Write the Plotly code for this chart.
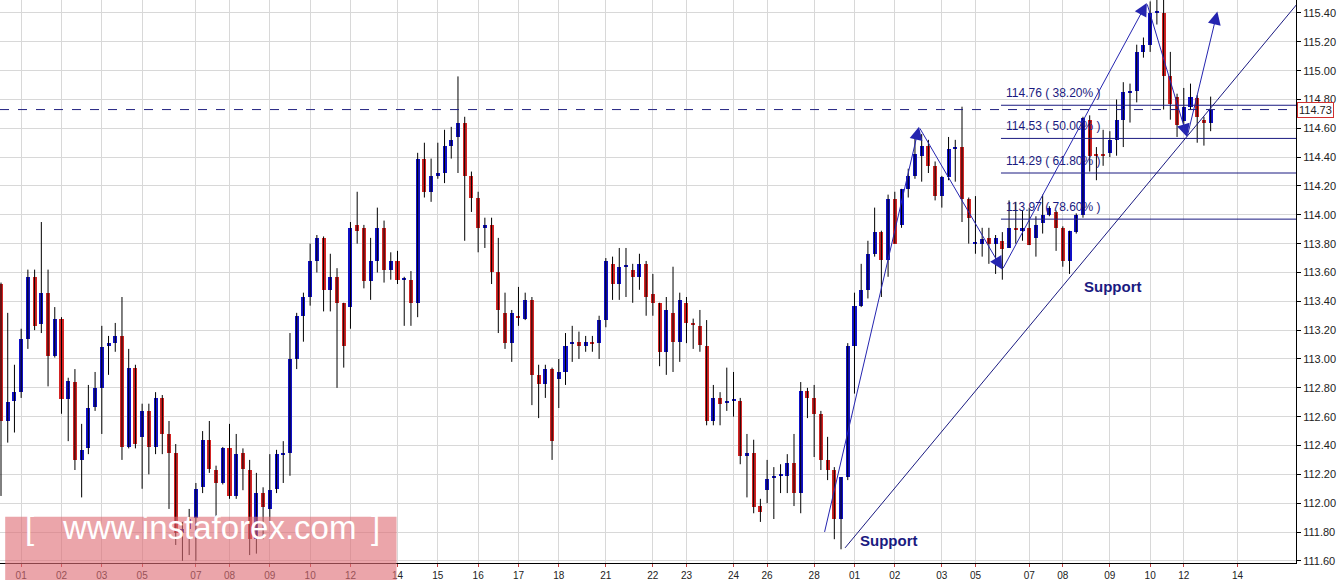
import plotly.graph_objects as go

# --- candle data (4h bars) ---------------------------------------------------
opens = [
    113.52, 112.57, 112.71, 112.77, 113.14, 113.57, 113.24, 113.46, 113.02, 113.28,
    112.72, 112.84, 112.30, 112.38, 112.67, 112.80, 113.09, 113.11, 113.16, 112.39,
    112.94, 112.46, 112.64, 112.39, 112.73, 112.48, 112.35, 111.79, 111.82, 111.90,
    112.11, 112.44, 112.23, 112.14, 112.38, 112.05, 112.35, 112.23, 111.75, 112.07,
    111.96, 112.10, 112.34, 112.35, 113.00, 113.30, 113.43, 113.68, 113.84, 113.48,
    113.57, 113.39, 113.36, 113.93, 113.91, 113.54, 113.68, 113.91, 113.62, 113.68,
    113.55, 113.55, 113.39, 114.39, 114.16, 114.27, 114.29, 114.48, 114.54, 114.64,
    114.27, 114.12, 113.91, 113.93, 113.60, 113.32, 113.11, 113.30, 113.28, 113.41,
    112.89, 112.83, 112.93, 112.86, 112.91, 113.11, 113.12, 113.09, 113.12, 113.11,
    113.27, 113.66, 113.52, 113.64, 113.62, 113.57, 113.66, 113.45, 113.39, 113.05,
    113.32, 113.12, 113.39, 113.25, 113.23, 113.09, 112.57, 112.73, 112.70, 112.71,
    112.71, 112.33, 112.35, 111.98, 112.09, 112.18, 112.19, 112.19, 112.28, 112.07,
    112.78, 112.73, 112.62, 112.30, 112.23, 111.89, 112.18, 113.09, 113.37, 113.48,
    113.73, 113.88, 113.69, 114.11, 113.93, 114.18, 114.27, 114.41, 114.48, 114.34,
    114.13, 114.26, 114.46, 114.47, 114.11, 113.80, 113.80, 113.84, 113.80, 113.82,
    113.77, 113.91, 113.89, 113.91, 113.84, 113.94, 114.00, 114.02, 113.91, 113.68,
    113.88, 114.00, 114.66, 114.42, 114.42, 114.43, 114.52, 114.66, 114.85, 114.86,
    115.13, 115.18, 115.40, 115.40, 114.96, 114.82, 114.65, 114.75, 114.81, 114.66,
    114.64,
]
highs = [
    113.53, 113.32, 112.96, 113.21, 113.62, 113.62, 113.95, 113.62, 113.36, 113.29,
    112.87, 112.93, 112.55, 112.82, 112.91, 113.23, 113.16, 113.25, 113.43, 113.07,
    112.96, 112.69, 112.69, 112.77, 112.75, 112.57, 112.41, 111.87, 111.96, 112.14,
    112.50, 112.57, 112.26, 112.39, 112.55, 112.48, 112.38, 112.30, 112.21, 112.11,
    112.34, 112.37, 112.43, 113.18, 113.32, 113.46, 113.80, 113.86, 113.85, 113.73,
    113.63, 113.39, 113.95, 114.16, 113.93, 113.84, 114.05, 113.96, 113.74, 113.75,
    113.57, 113.61, 114.43, 114.50, 114.39, 114.50, 114.59, 114.61, 114.96, 114.68,
    114.30, 114.16, 113.98, 113.98, 113.84, 113.46, 113.34, 113.50, 113.46, 113.43,
    112.96, 112.96, 112.94, 113.00, 113.18, 113.23, 113.19, 113.16, 113.16, 113.30,
    113.70, 113.71, 113.77, 113.77, 113.66, 113.73, 113.68, 113.59, 113.39, 113.43,
    113.64, 113.46, 113.43, 113.28, 113.34, 113.27, 112.82, 112.77, 112.94, 112.91,
    112.73, 112.48, 112.44, 112.03, 112.30, 112.25, 112.27, 112.34, 112.48, 112.84,
    112.80, 112.82, 112.64, 112.46, 112.25, 112.18, 113.11, 113.46, 113.66, 113.82,
    114.05, 113.89, 114.14, 114.16, 114.18, 114.32, 114.54, 114.56, 114.52, 114.37,
    114.27, 114.54, 114.52, 114.75, 114.12, 114.13, 113.91, 113.91, 113.86, 113.88,
    114.10, 114.09, 114.03, 114.05, 113.99, 114.14, 114.06, 114.03, 113.92, 113.89,
    114.01, 114.68, 114.69, 114.47, 114.59, 114.58, 114.80, 114.92, 114.91, 115.18,
    115.23, 115.48, 115.49, 115.49, 115.13, 114.84, 114.88, 114.91, 114.83, 114.68,
    114.82,
]
lows = [
    112.05, 112.42, 112.49, 112.73, 113.07, 113.20, 113.18, 112.81, 113.01, 112.62,
    112.43, 112.23, 112.04, 112.34, 112.64, 112.48, 112.89, 113.05, 112.30, 112.38,
    112.38, 112.10, 112.20, 112.34, 112.34, 111.96, 111.71, 111.60, 111.64, 111.60,
    112.07, 112.21, 111.80, 112.13, 112.03, 112.03, 112.09, 111.64, 111.65, 111.75,
    111.87, 112.07, 112.14, 112.19, 112.93, 113.12, 113.37, 113.60, 113.33, 113.33,
    112.80, 112.94, 113.21, 113.80, 113.49, 113.41, 113.60, 113.53, 113.55, 113.52,
    113.23, 113.23, 113.29, 114.12, 114.09, 114.25, 114.22, 114.39, 114.29, 113.82,
    114.02, 113.74, 113.77, 113.52, 113.18, 113.07, 112.98, 113.23, 113.27, 112.68,
    112.59, 112.73, 112.30, 112.66, 112.82, 112.98, 113.00, 113.05, 113.05, 113.00,
    113.22, 113.41, 113.41, 113.43, 113.39, 113.48, 113.30, 113.30, 112.95, 112.89,
    112.91, 112.98, 113.11, 113.07, 113.05, 112.54, 112.54, 112.54, 112.64, 112.60,
    112.27, 112.04, 111.93, 111.87, 112.00, 111.89, 112.07, 112.07, 111.98, 111.93,
    112.59, 112.32, 112.23, 112.16, 111.75, 111.68, 112.16, 112.76, 113.36, 113.42,
    113.71, 113.43, 113.57, 113.80, 113.91, 114.12, 114.25, 114.23, 114.29, 114.10,
    114.05, 114.24, 114.23, 113.95, 113.80, 113.73, 113.71, 113.66, 113.59, 113.55,
    113.77, 113.80, 113.82, 113.79, 113.71, 113.87, 113.99, 113.75, 113.64, 113.59,
    113.87, 113.98, 114.30, 114.24, 114.34, 114.40, 114.41, 114.47, 114.64, 114.78,
    115.09, 115.13, 115.32, 114.73, 114.66, 114.54, 114.60, 114.73, 114.50, 114.48,
    114.58,
]
closes = [
    112.57, 112.70, 112.77, 113.14, 113.57, 113.23, 113.46, 113.02, 113.28, 112.72,
    112.85, 112.30, 112.37, 112.66, 112.80, 113.08, 113.11, 113.16, 112.39, 112.94,
    112.41, 112.64, 112.39, 112.73, 112.48, 112.35, 111.79, 111.82, 111.89, 112.10,
    112.44, 112.24, 112.14, 112.38, 112.05, 112.34, 112.24, 111.75, 112.07, 111.97,
    112.09, 112.34, 112.35, 113.00, 113.30, 113.43, 113.68, 113.84, 113.48, 113.57,
    113.39, 113.09, 113.91, 113.89, 113.54, 113.68, 113.91, 113.62, 113.68, 113.55,
    113.55, 113.39, 114.39, 114.16, 114.27, 114.29, 114.48, 114.52, 114.64, 114.27,
    114.12, 113.91, 113.93, 113.60, 113.34, 113.11, 113.32, 113.29, 113.41, 112.89,
    112.83, 112.93, 112.43, 112.91, 113.09, 113.12, 113.09, 113.12, 113.11, 113.27,
    113.68, 113.52, 113.64, 113.64, 113.57, 113.66, 113.43, 113.39, 113.05, 113.34,
    113.12, 113.41, 113.25, 113.24, 113.10, 112.57, 112.73, 112.69, 112.71, 112.71,
    112.33, 112.35, 111.97, 111.94, 112.17, 112.19, 112.19, 112.28, 112.07, 112.78,
    112.73, 112.62, 112.30, 112.23, 111.89, 112.18, 113.09, 113.37, 113.48, 113.73,
    113.88, 113.69, 114.11, 113.80, 114.18, 114.27, 114.42, 114.48, 114.34, 114.13,
    114.26, 114.46, 114.46, 114.11, 113.98, 113.80, 113.83, 113.80, 113.84, 113.76,
    113.91, 113.90, 113.91, 113.79, 113.93, 114.00, 114.05, 113.91, 113.68, 113.89,
    114.00, 114.67, 114.41, 114.41, 114.41, 114.52, 114.66, 114.85, 114.86, 115.13,
    115.18, 115.40, 115.40, 114.96, 114.77, 114.62, 114.75, 114.82, 114.68, 114.64,
    114.73,
]

day_ticks = [3, 9, 15, 21, 29, 34, 40, 46, 52, 59, 65, 71, 77, 83, 90, 97, 102, 109, 114, 121,
             127, 133, 140, 145, 153, 158, 165, 171, 176, 184]
day_labels = ["01", "02", "03", "05", "07", "08", "09", "10", "12", "14", "15", "16", "17", "18",
              "21", "22", "23", "24", "26", "28", "01", "02", "03", "05", "07", "08", "09", "10",
              "12", "14"]
price_ticks = [round(111.6 + 0.2 * k, 2) for k in range(20)]

fib_levels = [114.76, 114.53, 114.29, 113.97]
fib_labels = ["114.76 ( 38.20% )", "114.53 ( 50.00% )", "114.29 ( 61.80% )", "113.97 ( 78.60% )"]
last_price = 114.73

# hand-drawn wave path (bar index, price) and support trendline
wave_x = [122.5, 136.6, 149.0, 170.5, 176.5, 181.0]
wave_y = [111.79, 114.61, 113.62, 115.47, 114.54, 115.41]
support_x = [125.6, 193.0]
support_y = [111.69, 115.47]

BLUE = "#1010c8"
RED = "#d42424"
NAVY = "#1a1a80"

idx = list(range(len(opens)))
body_base = [min(o, c) for o, c in zip(opens, closes)]
body_h = [max(abs(c - o), 0.008) for o, c in zip(opens, closes)]
body_col = [BLUE if c >= o else RED for o, c in zip(opens, closes)]

wick_x, wick_y = [], []
for i, h, l in zip(idx, highs, lows):
    wick_x += [i, i, None]
    wick_y += [l, h, None]

fig = go.Figure()
fig.add_trace(go.Scatter(x=wick_x, y=wick_y, mode="lines",
                         line=dict(color="black", width=1), hoverinfo="skip"))
fig.add_trace(go.Bar(x=idx, y=body_h, base=body_base, marker_color=body_col,
                     marker_line_width=0, width=0.6))

# trendlines
fig.add_trace(go.Scatter(x=support_x, y=support_y, mode="lines",
                         line=dict(color=NAVY, width=1), hoverinfo="skip"))
for k in range(len(wave_x) - 1):
    fig.add_annotation(x=wave_x[k + 1], y=wave_y[k + 1], ax=wave_x[k], ay=wave_y[k],
                       xref="x", yref="y", axref="x", ayref="y", text="",
                       showarrow=True, arrowhead=2, arrowsize=2.6, arrowwidth=1,
                       arrowcolor="#2525b0")

# fib retracement lines
for lvl, lab in zip(fib_levels, fib_labels):
    fig.add_shape(type="line", x0=148.8, x1=193, xref="x", yref="y", y0=lvl, y1=lvl,
                  line=dict(color=NAVY, width=1))
    fig.add_annotation(x=149.3, y=lvl, text=lab, showarrow=False, xanchor="left",
                       yanchor="bottom", yshift=3, font=dict(size=12, color=NAVY))

fig.add_hline(y=last_price, line=dict(color="#202080", width=1, dash="dash"))
fig.add_annotation(x=1.0, xref="paper", y=last_price, text=str(last_price), showarrow=False,
                   xanchor="left", xshift=1, bgcolor="white", bordercolor="#d03030",
                   borderwidth=1, borderpad=1, font=dict(size=11, color="#222"))

for sx, sy in [(127.5, 111.74), (160.9, 113.50)]:
    fig.add_annotation(x=sx, y=sy, text="<b>Support</b>", showarrow=False, xanchor="left",
                       font=dict(size=15, color=NAVY, family="Arial"))

# watermark
fig.add_shape(type="rect", xref="paper", yref="paper", x0=0.004, x1=0.306, y0=-0.03, y1=0.082,
              fillcolor="rgba(222,110,118,0.62)", line_width=0, layer="above")
wm_font = dict(size=33, color="white", family="Liberation Sans")
fig.add_annotation(xref="paper", yref="paper", x=0.018, y=0.026, xanchor="left",
                   text="[", showarrow=False, font=wm_font)
fig.add_annotation(xref="paper", yref="paper", x=0.161, y=0.026, xanchor="center",
                   text="www.instaforex.com", showarrow=False, font=wm_font)
fig.add_annotation(xref="paper", yref="paper", x=0.285, y=0.026, xanchor="left",
                   text="]", showarrow=False, font=wm_font)

fig.update_layout(
    width=1343, height=585, showlegend=False,
    margin=dict(l=0, r=47, t=0, b=22),
    plot_bgcolor="white", paper_bgcolor="white",
    font=dict(family="Arial", size=11, color="#222"),
    bargap=0,
)
fig.update_xaxes(range=[-0.15, 192.7], tickvals=day_ticks, ticktext=day_labels,
                 showgrid=True, gridcolor="#d8d8d8", zeroline=False,
                 showline=True, linecolor="black", linewidth=1,
                 ticks="outside", ticklen=3, tickcolor="#c04040", tickfont=dict(size=10))
fig.update_yaxes(range=[111.585, 115.49], side="right", tickvals=price_ticks,
                 tickformat=".2f", showgrid=True, gridcolor="#d8d8d8", zeroline=False,
                 showline=True, linecolor="black", linewidth=1,
                 ticks="outside", ticklen=4, tickcolor="black", tickfont=dict(size=11))

fig.write_html("out.html", config={"displayModeBar": False},
               post_script="document.body.style.margin='0';")
